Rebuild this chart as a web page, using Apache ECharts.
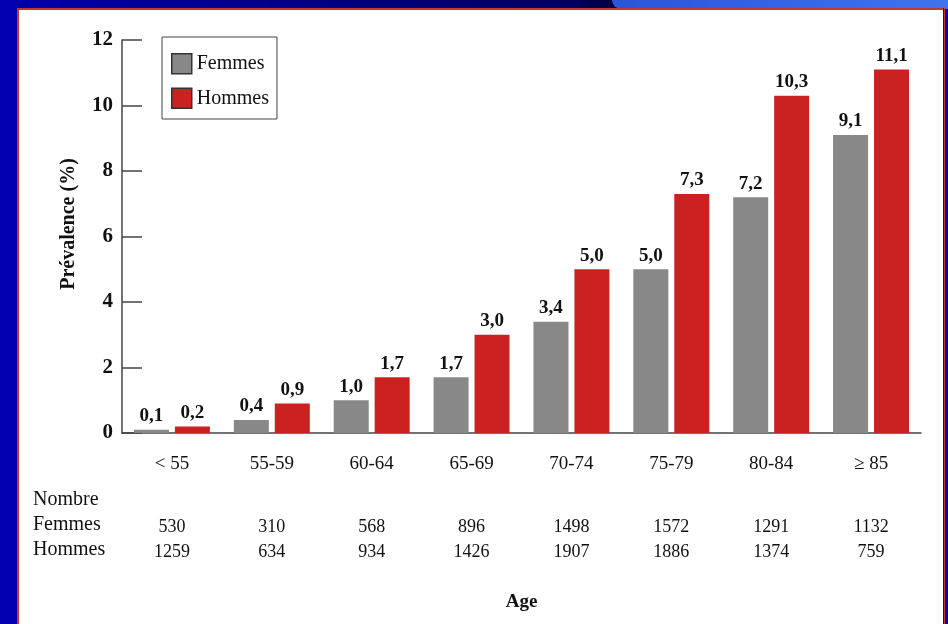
<!DOCTYPE html>
<html lang="fr">
<head>
    <meta charset="UTF-8">
    <title>Prévalence par âge</title>
    <style>
        html, body { margin: 0; padding: 0; }
        body { width: 948px; height: 624px; background: #0000b0; position: relative; overflow: hidden; }
        #topband { position: absolute; left: 17px; top: 0; width: 931px; height: 9px;
            background: linear-gradient(to right, #0000a8 0%, #000060 60%, #000040 64%); }
        #topright { position: absolute; left: 612px; top: 0; width: 336px; height: 9px;
            background: linear-gradient(to right, #2a55d8, #3f74ee); border-bottom-left-radius: 9px; }
        #panel { position: absolute; left: 17px; top: 8px; width: 928px; height: 620px;
            background: #fff; border: 2px solid #c83434; box-sizing: border-box; }
        #edge { position: absolute; left: 943px; top: 8px; width: 1px; height: 616px; background: #401010; }
        #main { position: absolute; left: 0; top: 0; width: 948px; height: 624px; }
    </style>
</head>
<body>
<div id="topband"></div>
<div id="topright"></div>
<div id="panel"></div>
<div id="edge"></div>
<div id="main"></div>

<script src="https://cdn.jsdelivr.net/npm/echarts@6/dist/echarts.min.js"></script>
<script type="text/javascript">
    // données
    var ages = ['< 55', '55-59', '60-64', '65-69', '70-74', '75-79', '80-84', '\u2265 85'];
    var prevFemmes = [0.1, 0.4, 1.0, 1.7, 3.4, 5.0, 7.2, 9.1];
    var prevHommes = [0.2, 0.9, 1.7, 3.0, 5.0, 7.3, 10.3, 11.1];
    var nbFemmes = ['530', '310', '568', '896', '1498', '1572', '1291', '1132'];
    var nbHommes = ['1259', '634', '934', '1426', '1907', '1886', '1374', '759'];

    var serif = '"Liberation Serif", "DejaVu Serif", serif';
    var ink = '#111';

    var myChart = echarts.init(document.getElementById('main'));

    function virgule(p) {
        return p.value.toFixed(1).replace('.', ',');
    }

    function rowAxis(data, offset) {
        return {
            type: 'category',
            position: 'bottom',
            offset: offset,
            data: data,
            axisLine: {show: false},
            axisTick: {show: false},
            splitLine: {show: false},
            axisLabel: {
                margin: 0,
                verticalAlign: 'middle',
                fontFamily: serif,
                fontSize: 18,
                color: ink
            }
        };
    }

    var option = {
        animation: false,
        backgroundColor: 'transparent',
        grid: {
            left: 122,
            right: 27,
            top: 40,
            bottom: 191
        },
        legend: {
            orient: 'vertical',
            left: 162,
            top: 37,
            padding: [16, 8, 10, 9],
            itemGap: 13,
            itemWidth: 20,
            itemHeight: 20,
            icon: 'rect',
            borderColor: '#444',
            borderWidth: 1,
            itemStyle: {borderColor: '#333', borderWidth: 1.5},
            textStyle: {fontFamily: serif, fontSize: 20, color: ink},
            data: ['Femmes', 'Hommes']
        },
        xAxis: [
            {
                type: 'category',
                data: ages,
                name: 'Age',
                nameLocation: 'middle',
                nameGap: 160,
                nameTextStyle: {fontFamily: serif, fontSize: 19, fontWeight: 'bold', color: ink},
                axisLine: {lineStyle: {color: '#444', width: 1.5}},
                axisTick: {inside: true, length: 13, lineStyle: {color: '#444', width: 1.5}},
                axisLabel: {margin: 22, fontFamily: serif, fontSize: 19, color: ink}
            },
            rowAxis(nbFemmes, 94),
            rowAxis(nbHommes, 119)
        ],
        yAxis: {
            type: 'value',
            min: 0,
            max: 12,
            interval: 2,
            axisLine: {show: true, lineStyle: {color: '#444', width: 1.5}},
            axisTick: {show: true, inside: true, length: 20, lineStyle: {color: '#444', width: 1.5}},
            splitLine: {show: false},
            axisLabel: {margin: 9, fontFamily: serif, fontSize: 21, fontWeight: 'bold', color: ink}
        },
        graphic: [
            {
                type: 'text', x: 69, y: 224, rotation: Math.PI / 2,
                style: {
                    text: 'Prévalence (%)', font: 'bold 20px ' + serif, fill: ink,
                    align: 'center', verticalAlign: 'middle'
                }
            },
            {type: 'text', left: 33, top: 490, style: {text: 'Nombre', font: '20px ' + serif, fill: ink}},
            {type: 'text', left: 33, top: 515, style: {text: 'Femmes', font: '20px ' + serif, fill: ink}},
            {type: 'text', left: 33, top: 540, style: {text: 'Hommes', font: '20px ' + serif, fill: ink}}
        ],
        series: [
            {
                name: 'Femmes',
                type: 'bar',
                barWidth: 35,
                barGap: '17%',
                data: prevFemmes,
                itemStyle: {color: '#888888'},
                label: {
                    show: true, position: 'top', distance: 4, formatter: virgule,
                    fontFamily: serif, fontSize: 19, fontWeight: 'bold', color: ink
                }
            },
            {
                name: 'Hommes',
                type: 'bar',
                barWidth: 35,
                data: prevHommes,
                itemStyle: {color: '#cc2121'},
                label: {
                    show: true, position: 'top', distance: 4, formatter: virgule,
                    fontFamily: serif, fontSize: 19, fontWeight: 'bold', color: ink
                }
            }
        ]
    };

    myChart.setOption(option);
</script>
</body>
</html>
